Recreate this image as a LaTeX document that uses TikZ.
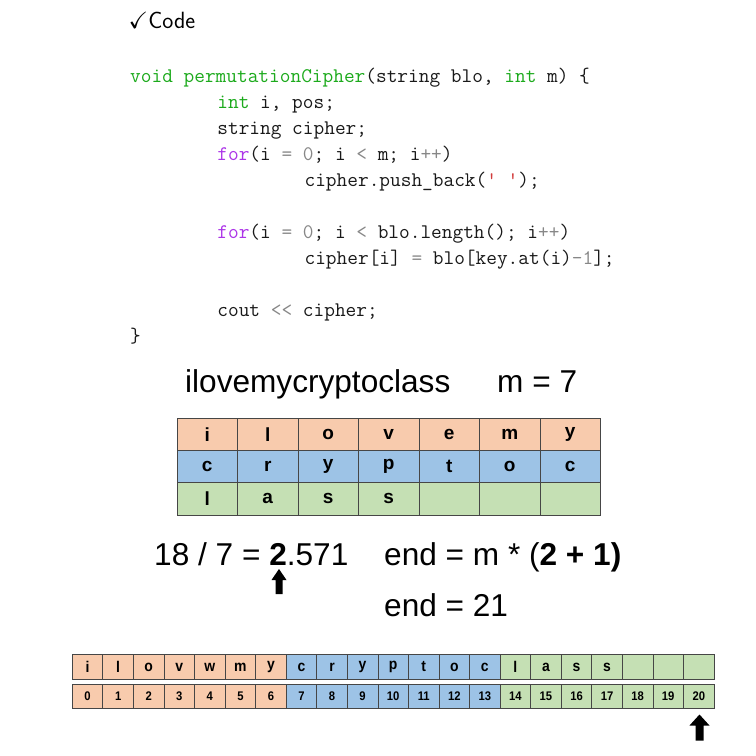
\documentclass[tikz,border=0pt]{standalone}
\usepackage{amssymb}
\usepackage{fontspec}
\newfontfamily\arial{Liberation Sans}
\definecolor{kwgreen}{RGB}{28,170,28}
\definecolor{kwpurple}{RGB}{172,52,232}
\definecolor{opgray}{RGB}{135,135,135}
\definecolor{strred}{RGB}{210,60,60}
\definecolor{codeblack}{RGB}{25,25,25}
\definecolor{cellorange}{RGB}{248,203,173}
\definecolor{cellblue}{RGB}{157,195,230}
\definecolor{cellgreen}{RGB}{197,224,180}
\definecolor{cellline}{RGB}{70,70,70}
\newcommand{\kw}[1]{\textcolor{kwgreen}{#1}}
\newcommand{\fr}[1]{\textcolor{kwpurple}{#1}}
\newcommand{\op}[1]{\textcolor{opgray}{#1}}
\newcommand{\qt}[1]{\textcolor{strred}{#1}}
\begin{document}
\begin{tikzpicture}[x=1pt,y=-1pt,
  codeline/.style={anchor=base west,inner sep=0pt,text=codeblack,
    font=\ttfamily\fontsize{20.76}{24}\selectfont},
  bigtext/.style={anchor=base west,inner sep=0pt,
    font=\arial\fontsize{31.6}{36}\selectfont},
  bigcell/.style={draw=cellline,line width=0.8pt,minimum width=60.5pt,
    minimum height=32.3pt,inner sep=0pt,
    font=\arial\bfseries\fontsize{19}{21}\selectfont},
  smallcell/.style={draw=cellline,line width=0.8pt,minimum width=30.56pt,
    inner sep=0pt,font=\arial\bfseries},
  lettercell/.style={smallcell,minimum height=24.8pt},
  numcell/.style={smallcell,minimum height=24pt},
  arrowfill/.style={fill=black}
]
\fill[white] (0,0) rectangle (756,756);
\useasboundingbox (0,0) rectangle (756,756);

% heading
\node[anchor=base west,inner sep=0pt,font=\sffamily\fontsize{23.5}{27}\selectfont]
  (title) at (128.5,28) {$\checkmark$Code};

% source listing
\def\cw{10.9}
\node[codeline] (c1) at (130,82) {\kw{void} \kw{permutationCipher}(string blo, \kw{int} m) \{};
\node[codeline] (c2) at (130+8*\cw,108) {\kw{int} i, pos;};
\node[codeline] (c3) at (130+8*\cw,134) {string cipher;};
\node[codeline] (c4) at (130+8*\cw,160) {\fr{for}(i \op{=} \op{0}; i \op{<} m; i\op{++})};
\node[codeline] (c5) at (130+16*\cw,186) {cipher.push\_back(\qt{' '});};
\node[codeline] (c6) at (130+8*\cw,238) {\fr{for}(i \op{=} \op{0}; i \op{<} blo.length(); i\op{++})};
\node[codeline] (c7) at (130+16*\cw,264) {cipher[i] \op{=} blo[key.at(i)\op{-1}];};
\node[codeline] (c8) at (130+8*\cw,316) {cout \op{<<} cipher;};
\node[codeline] (c9) at (130,342) {\}};

% plaintext and block size
\node[bigtext] (plain) at (185,392) {ilovemycryptoclass};
\node[bigtext] (msize) at (497,392) {m = 7};

% 3 x 7 grid
\foreach \ch [count=\i from 0] in {i,l,o,v,e,m,y}
  \node[bigcell,fill=cellorange] (ra\i) at (177+30.25+60.5*\i,434.2) {\ch};
\foreach \ch [count=\i from 0] in {c,r,y,p,t,o,c}
  \node[bigcell,fill=cellblue] (rb\i) at (177+30.25+60.5*\i,466.5) {\ch};
\foreach \ch [count=\i from 0] in {l,a,s,s,{},{},{}}
  \node[bigcell,fill=cellgreen] (rc\i) at (177+30.25+60.5*\i,498.8) {\ch};

% end computation
\node[bigtext] (div) at (154,565) {18 / 7 = \textbf{2}.571};
\node[bigtext] (endf) at (384,565) {end = m * (\textbf{2 + 1)}};
\node[bigtext] (endv) at (384,616) {end = 21};

% flat buffer with indices
\foreach \ch [count=\i from 0] in {i,l,o,v,w,m,y,c,r,y,p,t,o,c,l,a,s,s,{},{},{}}{
  \pgfmathsetmacro{\cx}{72.3+15.28+30.56*\i}
  \ifnum\i<7 \def\cf{cellorange}\else\ifnum\i<14 \def\cf{cellblue}\else\def\cf{cellgreen}\fi\fi
  \node[lettercell,fill=\cf] (bl\i) at (\cx,666.9)
    {\scalebox{0.9}[1]{\fontsize{15.5}{17}\selectfont\ch}};
  \node[numcell,fill=\cf] (bn\i) at (\cx,696.3)
    {\scalebox{0.9}[1]{\fontsize{12.5}{14}\selectfont\i}};
}

% block arrows
\coordinate (tipa) at (279,569);
\fill[arrowfill] (tipa) -- ++(7.5,11) -- ++(-4,0) -- ++(0,14) -- ++(-7,0)
  -- ++(0,-14) -- ++(-4,0) -- cycle;
\coordinate (tipb) at (699.5,714.5);
\fill[arrowfill] (tipb) -- ++(10,11) -- ++(-6,0) -- ++(0,15) -- ++(-8,0)
  -- ++(0,-15) -- ++(-6,0) -- cycle;
\end{tikzpicture}
\end{document}
